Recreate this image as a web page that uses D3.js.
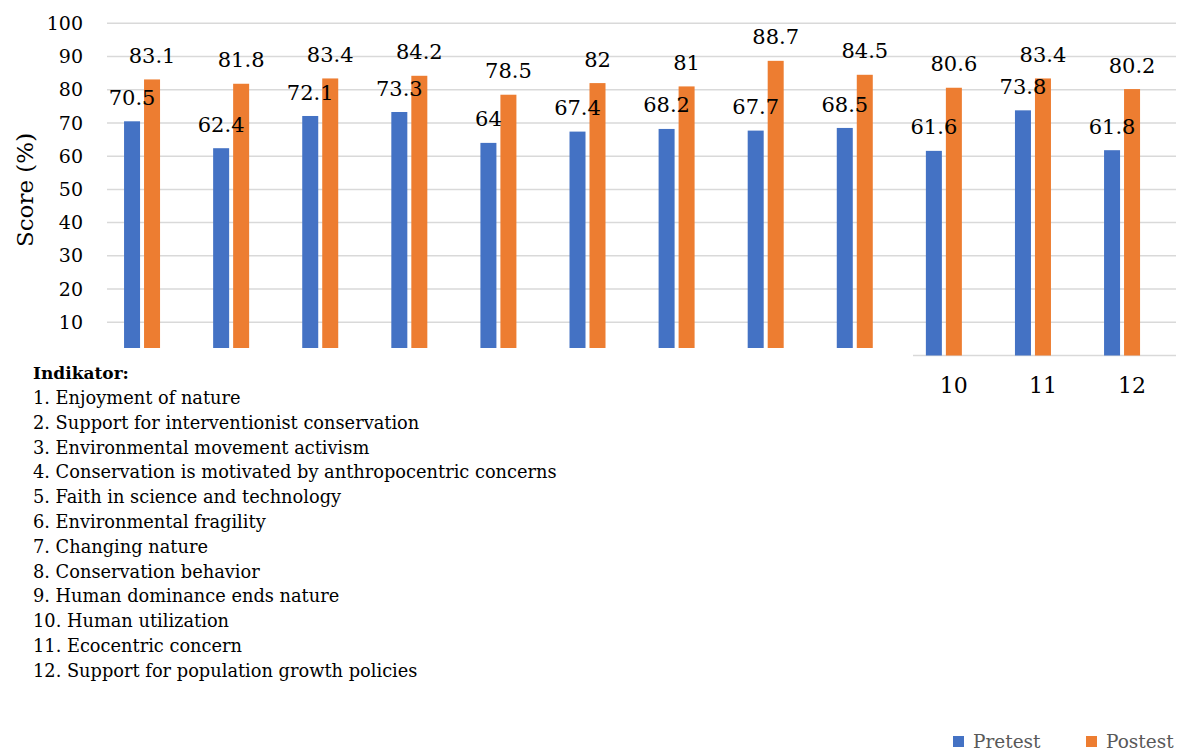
<!DOCTYPE html>
<html>
<head>
<meta charset="utf-8">
<script src="https://cdn.jsdelivr.net/npm/d3@7/dist/d3.min.js"></script>
<style>
  html, body { margin: 0; padding: 0; background: #fff; }
  svg { display: block; }
  text { font-family: "DejaVu Serif", serif; }
</style>
</head>
<body>
<svg id="chart" width="1179" height="753"></svg>
<script>
// Indicator numbers on the x axis
const categories = ["1", "2", "3", "4", "5", "6", "7", "8", "9", "10", "11", "12"];
// Scores (%) before and after
const pretest = [70.5, 62.4, 72.1, 73.3, 64, 67.4, 68.2, 67.7, 68.5, 61.6, 73.8, 61.8];
const postest = [83.1, 81.8, 83.4, 84.2, 78.5, 82, 81, 88.7, 84.5, 80.6, 83.4, 80.2];
const seriesNames = ["Pretest", "Postest"];
const gridTicks = [0, 10, 20, 30, 40, 50, 60, 70, 80, 90, 100];
const yTickLabels = [10, 20, 30, 40, 50, 60, 70, 80, 90, 100];
// Indicator descriptions
const indicatorTitle = "Indikator:";
const indicators = [
  "1. Enjoyment of nature",
  "2. Support for interventionist conservation",
  "3. Environmental movement activism",
  "4. Conservation is motivated by anthropocentric concerns",
  "5. Faith in science and technology",
  "6. Environmental fragility",
  "7. Changing nature",
  "8. Conservation behavior",
  "9. Human dominance ends nature",
  "10. Human utilization",
  "11. Ecocentric concern",
  "12. Support for population growth policies"
];

const colors = { Pretest: "#4472C4", Postest: "#ED7D31" };
const svg = d3.select("#chart");

const y = d3.scaleLinear().domain([0, 100]).range([355.5, 23.3]);
const x = d3.scaleBand().domain(categories).range([97.5, 1166.6]).padding(0);
const xs = d3.scaleBand().domain(seriesNames).range([-18, 18]).paddingInner(0.2);
const center = c => x(c) + x.bandwidth() / 2;

// gridlines
svg.append("g")
  .selectAll("line")
  .data(gridTicks)
  .join("line")
  .attr("x1", 107).attr("x2", 1176)
  .attr("y1", d => y(d)).attr("y2", d => y(d))
  .attr("stroke", "#d9d9d9").attr("stroke-width", 1.5);

// y axis labels
const yAxis = d3.axisLeft(y).tickValues(yTickLabels).tickSize(0).tickPadding(0);
const gy = svg.append("g").attr("transform", "translate(83,0)").call(yAxis);
gy.select(".domain").remove();
gy.selectAll("text")
  .attr("font-family", "DejaVu Serif, serif")
  .attr("font-size", 19).attr("fill", "#000");

svg.append("text")
  .attr("transform", "translate(33,190) rotate(-90)")
  .attr("text-anchor", "middle")
  .attr("font-size", 23)
  .text("Score (%)");

const rows = categories.map((c, i) => ({ c, Pretest: pretest[i], Postest: postest[i] }));

// bars
const groups = svg.append("g").selectAll("g")
  .data(rows).join("g")
  .attr("transform", d => `translate(${center(d.c)},0)`);

groups.selectAll("rect")
  .data(d => seriesNames.map(k => ({ k, v: d[k] })))
  .join("rect")
  .attr("x", d => xs(d.k))
  .attr("width", xs.bandwidth())
  .attr("y", d => y(d.v))
  .attr("height", d => y(0) - y(d.v))
  .attr("fill", d => colors[d.k]);

groups.selectAll("text.val")
  .data(d => seriesNames.map(k => ({ k, v: d[k] })))
  .join("text")
  .attr("class", "val")
  .attr("x", d => xs(d.k) + xs.bandwidth() / 2)
  .attr("y", d => y(d.v) - 24)
  .attr("dy", "0.36em")
  .attr("text-anchor", "middle")
  .attr("font-size", 21)
  .text(d => d.v);

// indicator panel laid over the lower left of the plot
svg.append("rect")
  .attr("x", 0).attr("y", 348).attr("width", 913).attr("height", 352)
  .attr("fill", "#fff");

// x axis labels that remain visible
svg.append("g").selectAll("text")
  .data(categories.slice(9))
  .join("text")
  .attr("x", d => center(d) + 10)
  .attr("y", 393)
  .attr("text-anchor", "middle")
  .attr("font-family", "Liberation Serif, serif")
  .attr("font-size", 22)
  .text(d => d);

svg.append("text")
  .attr("x", 33).attr("y", 379)
  .attr("font-size", 17).attr("font-weight", "bold")
  .text(indicatorTitle);

svg.append("g").selectAll("text")
  .data(indicators)
  .join("text")
  .attr("x", 33)
  .attr("y", (d, i) => 404 + i * 24.8)
  .attr("font-size", 17.8)
  .text(d => d);

// legend
const legend = svg.append("g").selectAll("g")
  .data([["Pretest", 953], ["Postest", 1086]])
  .join("g")
  .attr("transform", d => `translate(${d[1]},0)`);
legend.append("rect")
  .attr("x", 0).attr("y", 736).attr("width", 11).attr("height", 11)
  .attr("fill", d => colors[d[0]]);
legend.append("text")
  .attr("x", 20).attr("y", 748)
  .attr("font-size", 18.5).attr("fill", "#595959")
  .text(d => d[0]);
</script>
</body>
</html>
